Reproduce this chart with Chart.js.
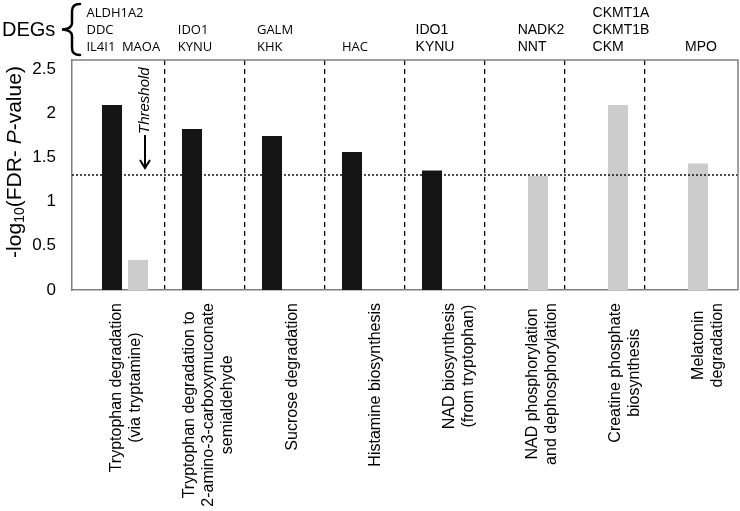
<!doctype html>
<html lang="en">
<head>
<meta charset="utf-8">
<title>DEG pathways</title>
<script src="https://cdn.jsdelivr.net/npm/chart.js@4.4.1/dist/chart.umd.min.js"></script>
<style>body{margin:0;background:#fff}</style>
</head>
<body>
<canvas id="myChart" width="740" height="511"></canvas>
<script>
// pathways (x categories), one label line per array entry
var pathways = [
  ['Tryptophan degradation', '(via tryptamine)'],
  ['Tryptophan degradation to', '2-amino-3-carboxymuconate', 'semialdehyde'],
  ['Sucrose degradation'],
  ['Histamine biosynthesis'],
  ['NAD biosynthesis', '(from tryptophan)'],
  ['NAD phosphorylation', 'and dephosphorylation'],
  ['Creatine phosphate', 'biosynthesis'],
  ['Melatonin', 'degradation']
];
// -log10(FDR P-value), black and grey series
var blackValues = [2.09, 1.82, 1.74, 1.56, 1.35, null, null, null];
var grayValues  = [0.34, null, null, null, null, 1.29, 2.09, 1.43];
// DEGs written above each bar
var blackGenes = [['ALDH1A2', 'DDC', 'IL4I1'], ['IDO1', 'KYNU'], ['GALM', 'KHK'], ['HAC'], ['IDO1', 'KYNU'], [], [], []];
var grayGenes  = [['MAOA'], [], [], [], [], ['NADK2', 'NNT'], ['CKMT1A', 'CKMT1B', 'CKM'], ['MPO']];
var yTicks = [0, 0.5, 1, 1.5, 2, 2.5];
var threshold = 1.3;

var xPad = 0.6625;
var xMin = -xPad, xMax = pathways.length - 1 + xPad;

function points(vals) {
  return vals.map(function (v, i) { return {x: i, y: v}; });
}

Chart.defaults.font.family = '"Liberation Sans", Arial, sans-serif';
Chart.defaults.color = '#000';

var extras = {
  id: 'extras',
  afterDraw: function (chart) {
    var ctx = chart.ctx, a = chart.chartArea;
    var xs = chart.scales.x, ys = chart.scales.y;
    ctx.save();

    // top and right frame
    ctx.strokeStyle = '#808080';
    ctx.lineWidth = 1.5;
    ctx.beginPath();
    ctx.moveTo(a.left, a.top);
    ctx.lineTo(a.right, a.top);
    ctx.lineTo(a.right, a.bottom);
    ctx.stroke();

    // pathway labels: rotated, lines centred in their block
    ctx.font = '16px "Liberation Sans"';
    ctx.textAlign = 'center';
    ctx.textBaseline = 'middle';
    var step = (a.right - a.left) / pathways.length;
    pathways.forEach(function (lines, i) {
      var w = 0;
      lines.forEach(function (l) { w = Math.max(w, ctx.measureText(l).width); });
      var cx = a.left + (i + 0.5) * step + 12;
      var cy = a.bottom + 13 + w / 2;
      lines.forEach(function (l, k) {
        ctx.save();
        ctx.translate(cx + (k - (lines.length - 1) / 2) * 19, cy);
        ctx.rotate(-Math.PI / 2);
        ctx.fillText(l, 0, 0);
        ctx.restore();
      });
    });
    ctx.textAlign = 'left';

    // y title with subscript and italic P
    ctx.save();
    ctx.translate(15, 162);
    ctx.rotate(-Math.PI / 2);
    ctx.textBaseline = 'middle';
    var parts = [
      ['-log', '21px "Liberation Sans"', 0],
      ['10', '14px "Liberation Sans"', 5],
      ['(FDR- ', '21px "Liberation Sans"', 0],
      ['P', 'italic 21px "Liberation Sans"', 0],
      ['-value)', '21px "Liberation Sans"', 0]
    ];
    var total = 0;
    parts.forEach(function (p) { ctx.font = p[1]; total += ctx.measureText(p[0]).width; });
    var px = -total / 2;
    parts.forEach(function (p) {
      ctx.font = p[1];
      ctx.fillText(p[0], px, p[2]);
      px += ctx.measureText(p[0]).width;
    });
    ctx.restore();

    // threshold arrow + label
    var ax = xs.getPixelForValue(0) + 20;
    var tip = ys.getPixelForValue(threshold) - 7;
    ctx.strokeStyle = '#000';
    ctx.lineWidth = 2;
    ctx.beginPath();
    ctx.moveTo(ax, tip - 33);
    ctx.lineTo(ax, tip);
    ctx.moveTo(ax - 5, tip - 8);
    ctx.lineTo(ax, tip);
    ctx.lineTo(ax + 5, tip - 8);
    ctx.stroke();
    ctx.save();
    ctx.translate(ax, tip - 34);
    ctx.rotate(-Math.PI / 2);
    ctx.font = 'italic 15px "Liberation Sans"';
    ctx.textBaseline = 'middle';
    ctx.fillText('Threshold', 0, 0);
    ctx.restore();

    // DEGs header
    ctx.font = '20px "Liberation Sans"';
    ctx.textBaseline = 'middle';
    ctx.fillText('DEGs', 2, 30);
    ctx.lineWidth = 2.5;
    ctx.lineCap = 'round';
    ctx.beginPath();
    ctx.moveTo(80, 4);
    ctx.quadraticCurveTo(72, 4, 72, 11);
    ctx.lineTo(72, 23);
    ctx.quadraticCurveTo(72, 29, 62, 29.5);
    ctx.quadraticCurveTo(72, 30, 72, 36);
    ctx.lineTo(72, 48);
    ctx.quadraticCurveTo(72, 55, 80, 55);
    ctx.stroke();

    // gene blocks: left-aligned lines, block centred over its bar
    [blackGenes, grayGenes].forEach(function (genes, d) {
      var meta = chart.getDatasetMeta(d);
      genes.forEach(function (list, j) {
        if (!list.length) return;
        ctx.font = j < 4 ? '13px "Open Sans"' : '14px "Liberation Sans"';
        var w = 0;
        list.forEach(function (g) { w = Math.max(w, ctx.measureText(g).width); });
        var left = meta.data[j].x + 3 - w / 2;
        list.forEach(function (g, k) {
          var line = 3 - list.length + k;
          ctx.fillText(g, left, 13 + line * 17);
        });
      });
    });
    ctx.restore();
  }
};

var ctx = document.getElementById('myChart').getContext('2d');
new Chart(ctx, {
  type: 'bar',
  data: {
    datasets: [
      {data: points(blackValues), backgroundColor: '#151515', order: 1},
      {data: points(grayValues), backgroundColor: '#cccccc', order: 1},
      {
        type: 'line',
        data: [{x: xMin, y: threshold}, {x: xMax, y: threshold}],
        borderColor: '#111', borderWidth: 1.6, borderDash: [2, 2],
        pointRadius: 0, order: 0
      }
    ]
  },
  options: {
    responsive: false,
    animation: false,
    // tick spacing is half a category, so these are relative to 40px
    categoryPercentage: 1.3,
    barPercentage: 0.77,
    layout: {padding: {top: 60, right: 2, left: 0, bottom: 0}},
    plugins: {legend: {display: false}, tooltip: {enabled: false}},
    scales: {
      x: {
        type: 'linear',
        min: xMin,
        max: xMax,
        offset: false,
        afterBuildTicks: function (s) {
          var t = [];
          for (var i = 0; i < pathways.length; i++) {
            t.push({value: i});
            if (i < pathways.length - 1) t.push({value: i + 0.5});
          }
          s.ticks = t;
        },
        afterFit: function (s) { s.height = 221; },
        ticks: {
          autoSkip: false,
          minRotation: 90,
          maxRotation: 90,
          callback: function () { return ''; }
        },
        grid: {
          offset: false,
          drawTicks: false,
          lineWidth: 1.3,
          color: function (c) { return c.tick && c.tick.value % 1 ? '#111' : 'rgba(0,0,0,0)'; }
        },
        border: {display: true, color: '#808080', width: 1.5, dash: [5, 4]}
      },
      y: {
        min: 0,
        max: 2.6,
        afterBuildTicks: function (s) {
          s.ticks = yTicks.map(function (v) { return {value: v}; });
        },
        afterFit: function (s) { s.width = 72; },
        ticks: {
          padding: 16,
          font: {size: 17},
          callback: function (v) { return String(v); }
        },
        grid: {display: false, drawTicks: false},
        border: {display: true, color: '#808080', width: 1.5}
      }
    }
  },
  plugins: [extras]
});
</script>
</body>
</html>
